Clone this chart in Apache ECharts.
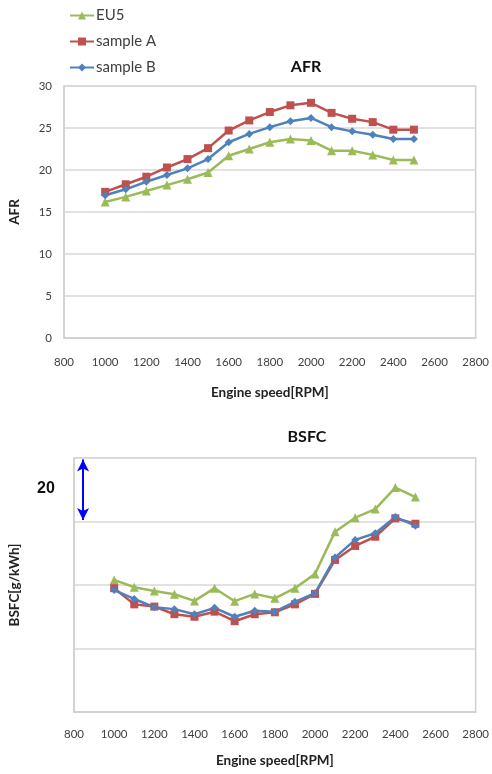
<!DOCTYPE html>
<html>
<head>
<meta charset="utf-8">
<script src="https://cdn.jsdelivr.net/npm/echarts@6/dist/echarts.min.js"></script>
<style>
  html, body { margin: 0; padding: 0; background: #ffffff; }
  #chart { width: 492px; height: 774px; }
</style>
</head>
<body>
<div id="chart"></div>
<script>
// Engine speed sweep, rpm
const rpm = [1000, 1100, 1200, 1300, 1400, 1500, 1600, 1700, 1800, 1900, 2000, 2100, 2200, 2300, 2400, 2500];

// Air-fuel ratio
const afrEU5     = [16.2, 16.8, 17.5, 18.2, 18.9, 19.7, 21.7, 22.5, 23.3, 23.7, 23.5, 22.3, 22.3, 21.8, 21.2, 21.2];
const afrSampleA = [17.4, 18.3, 19.2, 20.3, 21.3, 22.6, 24.7, 25.9, 26.9, 27.7, 28.0, 26.8, 26.1, 25.7, 24.8, 24.8];
const afrSampleB = [17.0, 17.7, 18.6, 19.4, 20.2, 21.3, 23.3, 24.3, 25.1, 25.8, 26.2, 25.1, 24.6, 24.2, 23.7, 23.7];

// Brake specific fuel consumption, g/kWh
const bsfcEU5     = [241.6, 239.3, 238.1, 237.1, 235.0, 239.0, 234.9, 237.2, 235.8, 239.0, 243.5, 256.8, 261.2, 263.9, 270.7, 267.7];
const bsfcSampleA = [239.0, 233.9, 233.2, 230.8, 230.0, 231.6, 228.6, 230.8, 231.4, 233.9, 237.2, 247.9, 252.3, 255.2, 261.0, 259.3];
const bsfcSampleB = [238.4, 235.6, 233.0, 232.4, 230.8, 232.8, 230.0, 231.9, 231.6, 234.7, 237.4, 248.7, 254.2, 256.3, 261.4, 258.7];

// Axis ranges and tick steps
const rpmRange = [800, 2800, 200];
const afrRange = [0, 30, 5];
const bsfcRange = [200, 280, 20];

// Scale bar in the BSFC panel: one grid step (20 g/kWh)
const scaleBarRpm = 845;
const scaleBarSpan = [279.5, 260.5];
const scaleBarText = '20';

const colors = { eu5: '#9BBB59', a: '#C0504D', b: '#4F81BD' };
const font = 'Lato, "Open Sans", sans-serif';

const pairs = (ys) => rpm.map((x, i) => [x, ys[i]]);

function xAxis(gridIndex, labelMargin, nameGap) {
  return {
    type: 'value', gridIndex,
    min: rpmRange[0], max: rpmRange[1], interval: rpmRange[2],
    name: 'Engine speed[RPM]', nameLocation: 'middle', nameGap,
    nameTextStyle: { fontFamily: font, fontWeight: 'bold', fontSize: 13.5, color: '#222' },
    axisLine: { show: true, lineStyle: { color: '#d0d0d0', width: 1.5 } },
    axisTick: { show: false },
    splitLine: { show: false },
    axisLabel: {
      fontFamily: font, fontSize: 11.5, color: '#404040', margin: labelMargin,
      formatter: (v) => String(v)
    }
  };
}

function lineSeries(name, xi, data, color, symbol, size) {
  return {
    name, type: 'line', xAxisIndex: xi, yAxisIndex: xi,
    data, symbol, symbolSize: size, showSymbol: true,
    lineStyle: { color, width: 2.5 },
    itemStyle: { color },
    animation: false
  };
}

const chart = echarts.init(document.getElementById('chart'), null, { renderer: 'canvas' });

chart.setOption({
  backgroundColor: '#ffffff',
  animation: false,
  title: [
    { text: 'AFR', left: 301, top: 54, textAlign: 'center',
      textStyle: { fontFamily: font, fontWeight: 'bold', fontSize: 16, color: '#111' } },
    { text: 'BSFC', left: 302, top: 424, textAlign: 'center',
      textStyle: { fontFamily: font, fontWeight: 'bold', fontSize: 16, color: '#111' } }
  ],
  legend: {
    orient: 'vertical', left: 64, top: 3, itemGap: 11,
    itemWidth: 24, itemHeight: 10,
    textStyle: { fontFamily: font, fontSize: 15, color: '#404040', padding: [0, 0, 0, -3] },
    data: ['EU5', 'sample A', 'sample B']
  },
  grid: [
    { left: 60, right: 14, top: 86, height: 252, show: true, borderColor: '#d0d0d0', borderWidth: 1.5, containLabel: false },
    { left: 68, right: 14, top: 458, height: 254, show: true, borderColor: '#d0d0d0', borderWidth: 1.5, containLabel: false }
  ],
  xAxis: [xAxis(0, 18, 48), xAxis(1, 16, 42)],
  yAxis: [
    {
      type: 'value', gridIndex: 0,
      min: afrRange[0], max: afrRange[1], interval: afrRange[2],
      name: 'AFR', nameLocation: 'middle', nameGap: 42,
      nameTextStyle: { fontFamily: font, fontWeight: 'bold', fontSize: 13.5, color: '#222' },
      axisLine: { show: true, lineStyle: { color: '#d0d0d0', width: 1.5 } },
      axisTick: { show: false },
      splitLine: { lineStyle: { color: '#d9d9d9', width: 1.5 } },
      axisLabel: { fontFamily: font, fontSize: 11.5, color: '#404040', margin: 12 }
    },
    {
      type: 'value', gridIndex: 1,
      min: bsfcRange[0], max: bsfcRange[1], interval: bsfcRange[2],
      name: 'BSFC[g/kWh]', nameLocation: 'middle', nameGap: 52,
      nameTextStyle: { fontFamily: font, fontWeight: 'bold', fontSize: 13.5, color: '#222' },
      axisLine: { show: true, lineStyle: { color: '#d0d0d0', width: 1.5 } },
      axisTick: { show: false },
      splitLine: { lineStyle: { color: '#d9d9d9', width: 1.5 } },
      axisLabel: { show: false }
    }
  ],
  series: [
    lineSeries('EU5', 0, pairs(afrEU5), colors.eu5, 'triangle', 9),
    lineSeries('sample A', 0, pairs(afrSampleA), colors.a, 'rect', 8),
    lineSeries('sample B', 0, pairs(afrSampleB), colors.b, 'diamond', 8),
    lineSeries('EU5', 1, pairs(bsfcEU5), colors.eu5, 'triangle', 9),
    lineSeries('sample A', 1, pairs(bsfcSampleA), colors.a, 'rect', 8),
    Object.assign(lineSeries('sample B', 1, pairs(bsfcSampleB), colors.b, 'diamond', 8), {
      markLine: {
        silent: true,
        symbol: ['arrow', 'arrow'],
        symbolSize: [9, 12],
        label: { show: false },
        lineStyle: { color: '#0000ff', width: 2, type: 'solid' },
        data: [[
          { coord: [scaleBarRpm, scaleBarSpan[0]] },
          { coord: [scaleBarRpm, scaleBarSpan[1]] }
        ]]
      }
    })
  ],
  graphic: [
    { type: 'text', left: 37, top: 481,
      style: { text: scaleBarText, fontFamily: '"Liberation Sans", Arial, sans-serif', fontWeight: 'bold', fontSize: 16, fill: '#111' } }
  ]
});
</script>
</body>
</html>
